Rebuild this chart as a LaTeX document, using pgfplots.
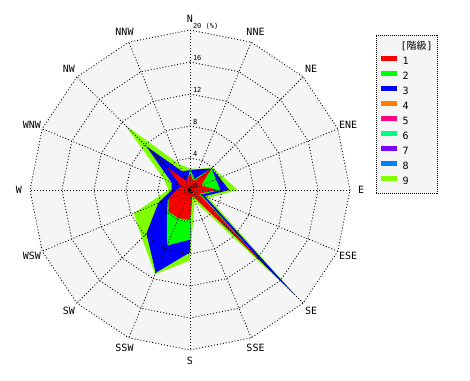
\documentclass[border=0pt]{standalone}
\usepackage{fontspec}
\setmainfont{DejaVu Sans}
\setmonofont{DejaVu Sans Mono}
\newfontfamily\cjk{Noto Sans CJK JP}
\usepackage{pgfplots}
\usepackage{pgfplotstable}
\pgfplotsset{compat=1.18}
\definecolor{bg}{HTML}{F5F5F5}
\definecolor{c1}{HTML}{FF0000}
\definecolor{c2}{HTML}{00FF00}
\definecolor{c3}{HTML}{0000FF}
\definecolor{c4}{HTML}{FF8000}
\definecolor{c5}{HTML}{FF0080}
\definecolor{c6}{HTML}{00FF80}
\definecolor{c7}{HTML}{8000FF}
\definecolor{c8}{HTML}{0080FF}
\definecolor{c9}{HTML}{80FF00}

% wind rose values (%) by direction: N, NNE, NE, ..., NNW, N again to close
\pgfplotstableread{
ang    c1   c2   c3   c4 c5 c6 c7 c8 c9
90     2.0  2.6  2.5  0  0  0  0  0  2.7
67.5   1.2  1.5  2.8  0  0  0  0  0  2.85
45     3.8  3.8  3.8  0  0  0  0  0  4.0
22.5   1.5  3.5  4.0  0  0  0  0  0  4.4
0      3.5  3.8  4.9  0  0  0  0  0  6.0
-22.5  1.2  1.5  2.0  0  0  0  0  0  2.5
-45    12.0 12.0 18.6 0  0  0  0  0  18.9
-67.5  0.8  0.6  0.5  0  0  0  0  0  1.5
-90    3.75 6.2  7.8  0  0  0  0  0  8.8
-112.5 3.8  7.5  11.2 0  0  0  0  0  11.4
-135   3.8  4.1  7.7  0  0  0  0  0  8.5
-157.5 2.9  3.0  4.3  0  0  0  0  0  7.6
-180   1.7  1.5  2.3  0  0  0  0  0  2.7
-202.5 1.2  1.0  2.5  0  0  0  0  0  3.5
-225   4.0  3.0  7.7  0  0  0  0  0  11.5
-247.5 1.2  1.0  2.5  0  0  0  0  0  3.5
-270   2.0  2.6  2.5  0  0  0  0  0  2.7
}\wind

\pgfplotstableread{
ang    r4 r8 r12 r16 r20
90     4  8  12  16  20
67.5   4  8  12  16  20
45     4  8  12  16  20
22.5   4  8  12  16  20
0      4  8  12  16  20
-22.5  4  8  12  16  20
-45    4  8  12  16  20
-67.5  4  8  12  16  20
-90    4  8  12  16  20
-112.5 4  8  12  16  20
-135   4  8  12  16  20
-157.5 4  8  12  16  20
-180   4  8  12  16  20
-202.5 4  8  12  16  20
-225   4  8  12  16  20
-247.5 4  8  12  16  20
-270   4  8  12  16  20
}\grid

\begin{document}
\begin{tikzpicture}
\path[use as bounding box] (0,0) rectangle (470pt,380pt);
\begin{axis}[
  at={(0,0)}, anchor=south west,
  scale only axis, width=470pt, height=380pt,
  xmin=-23.75, xmax=35, ymin=-23.75, ymax=23.75,
  hide axis, clip=false,
  legend style={
    at={(0.8,0.9079)}, anchor=north west,
    draw=black, dash pattern=on 1pt off 1pt, fill=bg,
    font=\ttfamily\fontsize{10}{12}\selectfont,
    inner xsep=3pt, inner ysep=5.5pt,
    row sep=3pt, column sep=2pt,
    nodes={inner sep=1pt, text height=8pt, text depth=2pt},
  },
  legend cell align=left,
  grid line/.style={black, line width=0.8pt, dash pattern=on 1pt off 2pt},
]
% background
\addplot[fill=bg, draw=none, data cs=polar, forget plot] table[x=ang, y=r20] {\grid};
% data polygons, highest class first
\addplot[fill=c9, draw=none, data cs=polar, forget plot] table[x=ang, y=c9] {\wind};
\addplot[fill=c8, draw=none, data cs=polar, forget plot] table[x=ang, y=c8] {\wind};
\addplot[fill=c7, draw=none, data cs=polar, forget plot] table[x=ang, y=c7] {\wind};
\addplot[fill=c6, draw=none, data cs=polar, forget plot] table[x=ang, y=c6] {\wind};
\addplot[fill=c5, draw=none, data cs=polar, forget plot] table[x=ang, y=c5] {\wind};
\addplot[fill=c4, draw=none, data cs=polar, forget plot] table[x=ang, y=c4] {\wind};
\addplot[fill=c3, draw=none, data cs=polar, forget plot] table[x=ang, y=c3] {\wind};
\addplot[fill=c2, draw=none, data cs=polar, forget plot] table[x=ang, y=c2] {\wind};
\addplot[fill=c1, draw=none, data cs=polar, forget plot] table[x=ang, y=c1] {\wind};
% grid rings
\addplot[grid line, data cs=polar, forget plot] table[x=ang, y=r4] {\grid};
\addplot[grid line, data cs=polar, forget plot] table[x=ang, y=r8] {\grid};
\addplot[grid line, data cs=polar, forget plot] table[x=ang, y=r12] {\grid};
\addplot[grid line, data cs=polar, forget plot] table[x=ang, y=r16] {\grid};
\addplot[grid line, data cs=polar, forget plot] table[x=ang, y=r20] {\grid};
% spokes
\addplot[grid line, data cs=polar, forget plot] coordinates {(90,20) (270,20)};
\addplot[grid line, data cs=polar, forget plot] coordinates {(67.5,20) (247.5,20)};
\addplot[grid line, data cs=polar, forget plot] coordinates {(45,20) (225,20)};
\addplot[grid line, data cs=polar, forget plot] coordinates {(22.5,20) (202.5,20)};
\addplot[grid line, data cs=polar, forget plot] coordinates {(0,20) (180,20)};
\addplot[grid line, data cs=polar, forget plot] coordinates {(-22.5,20) (157.5,20)};
\addplot[grid line, data cs=polar, forget plot] coordinates {(-45,20) (135,20)};
\addplot[grid line, data cs=polar, forget plot] coordinates {(-67.5,20) (112.5,20)};
% centre dot
\addplot[only marks, mark=*, mark size=1.6pt, black, forget plot] coordinates {(0,0)};

% ring labels
\begin{scope}[font=\ttfamily\fontsize{7}{8}\selectfont]
\node[anchor=south west, inner sep=0pt] at (axis cs:0.35,0.15) {0};
\node[anchor=south west, inner sep=0pt] at (axis cs:0.35,4.1) {4};
\node[anchor=south west, inner sep=0pt] at (axis cs:0.35,8.1) {8};
\node[anchor=south west, inner sep=0pt] at (axis cs:0.35,12.1) {12};
\node[anchor=south west, inner sep=0pt] at (axis cs:0.35,16.1) {16};
\node[anchor=south west, inner sep=0pt] at (axis cs:0.35,20.1) {20 (\%)};
\end{scope}
% direction labels
\begin{scope}[font=\ttfamily\fontsize{10}{12}\selectfont]
\node at (axis cs:0,21.4) {N};
\node at (axis cs:8.189,19.771) {NNE};
\node at (axis cs:15.132,15.132) {NE};
\node at (axis cs:19.771,8.189) {ENE};
\node at (axis cs:21.4,0) {E};
\node at (axis cs:19.771,-8.189) {ESE};
\node at (axis cs:15.132,-15.132) {SE};
\node at (axis cs:8.189,-19.771) {SSE};
\node at (axis cs:0,-21.4) {S};
\node at (axis cs:-8.189,-19.771) {SSW};
\node at (axis cs:-15.132,-15.132) {SW};
\node at (axis cs:-19.771,-8.189) {WSW};
\node at (axis cs:-21.4,0) {W};
\node at (axis cs:-19.771,8.189) {WNW};
\node at (axis cs:-15.132,15.132) {NW};
\node at (axis cs:-8.189,19.771) {NNW};
\end{scope}

% legend
\addlegendimage{empty legend}
\addlegendentry{\hspace{-2pt}[{\cjk 階級}]\hspace{-2pt}}
\addlegendimage{legend image code/.code={\draw[c1, solid, line width=4.5pt] (0pt,0.6ex) -- (16pt,0.6ex);}}
\addlegendentry{1}
\addlegendimage{legend image code/.code={\draw[c2, solid, line width=4.5pt] (0pt,0.6ex) -- (16pt,0.6ex);}}
\addlegendentry{2}
\addlegendimage{legend image code/.code={\draw[c3, solid, line width=4.5pt] (0pt,0.6ex) -- (16pt,0.6ex);}}
\addlegendentry{3}
\addlegendimage{legend image code/.code={\draw[c4, solid, line width=4.5pt] (0pt,0.6ex) -- (16pt,0.6ex);}}
\addlegendentry{4}
\addlegendimage{legend image code/.code={\draw[c5, solid, line width=4.5pt] (0pt,0.6ex) -- (16pt,0.6ex);}}
\addlegendentry{5}
\addlegendimage{legend image code/.code={\draw[c6, solid, line width=4.5pt] (0pt,0.6ex) -- (16pt,0.6ex);}}
\addlegendentry{6}
\addlegendimage{legend image code/.code={\draw[c7, solid, line width=4.5pt] (0pt,0.6ex) -- (16pt,0.6ex);}}
\addlegendentry{7}
\addlegendimage{legend image code/.code={\draw[c8, solid, line width=4.5pt] (0pt,0.6ex) -- (16pt,0.6ex);}}
\addlegendentry{8}
\addlegendimage{legend image code/.code={\draw[c9, solid, line width=4.5pt] (0pt,0.6ex) -- (16pt,0.6ex);}}
\addlegendentry{9}
\end{axis}
\end{tikzpicture}
\end{document}
